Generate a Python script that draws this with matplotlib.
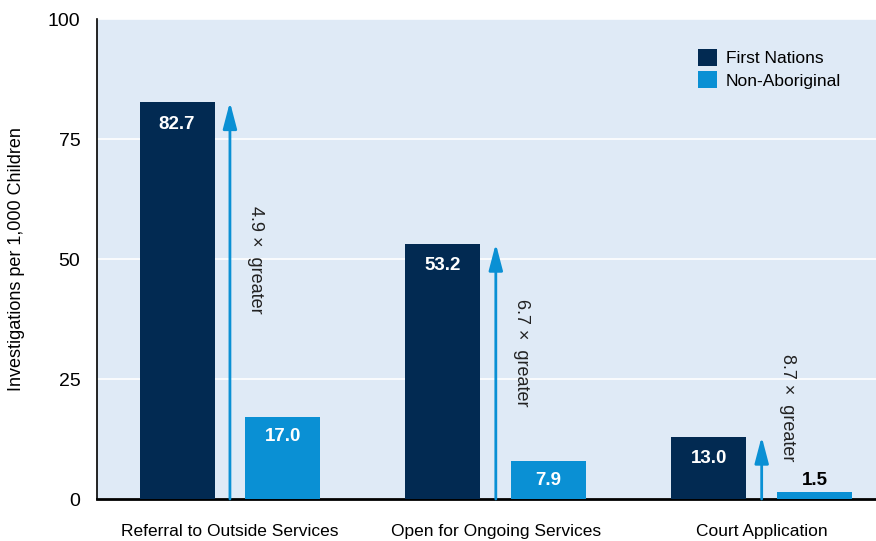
import matplotlib
matplotlib.use('Agg')
from matplotlib import pyplot as plt
import numpy as np

categories = ['Referral to Outside Services', 'Open for Ongoing Services', 'Court Application']
first_nations = [82.7, 53.2, 13.0]
non_aboriginal = [17.0, 7.9, 1.5]
ratios = ['4.9', '6.7', '8.7']
series_names = ['First Nations', 'Non-Aboriginal']

FN_COLOR = '#022a52'
NA_COLOR = '#0a90d4'
BG_COLOR = '#dfeaf6'

plt.rcParams['font.family'] = ['Liberation Sans', 'DejaVu Sans']

fig = plt.figure(figsize=(8.76, 5.41), dpi=100)
ax = fig.add_axes([97/876, 1 - 499/541, 779/876, 480/541])
ax.set_facecolor(BG_COLOR)

x = np.arange(len(categories))
w = 0.282
off = 0.199

b1 = ax.bar(x - off, first_nations, w, color=FN_COLOR, label=series_names[0], zorder=3)
b2 = ax.bar(x + off, non_aboriginal, w, color=NA_COLOR, label=series_names[1], zorder=3)

# value labels
for xi, v in zip(x, first_nations):
    ax.annotate(f'{v:.1f}', (xi - off, v), xytext=(0, -16), textcoords='offset points',
                ha='center', va='center', color='white', fontsize=13.5, fontweight='bold', zorder=4)
for xi, v in zip(x, non_aboriginal):
    if v > 5:
        ax.annotate(f'{v:.1f}', (xi + off, v), xytext=(0, -14), textcoords='offset points',
                    ha='center', va='center', color='white', fontsize=13.5, fontweight='bold', zorder=4)
    else:
        ax.annotate(f'{v:.1f}', (xi + off, v), xytext=(0, 8), textcoords='offset points',
                    ha='center', va='center', color='black', fontsize=13.5, fontweight='bold', zorder=4)

# ratio arrows
for xi, fn, na, r in zip(x, first_nations, non_aboriginal, ratios):
    ax.annotate('', xy=(xi, fn), xytext=(xi, 0),
                arrowprops=dict(arrowstyle='-|>,head_length=1.6,head_width=0.42',
                                color=NA_COLOR, lw=2, shrinkA=0, shrinkB=0), zorder=4)
    ty = max((fn + na) / 2, 19)
    ax.text(xi + 0.098, ty, f'{r} \u00d7  greater', rotation=-90, ha='center', va='center',
            fontsize=13, color='#222222', zorder=4)

ax.set_xlim(-0.5, 2.43)
ax.set_ylim(0, 100)
ax.set_yticks([0, 25, 50, 75, 100])
ax.set_xticks(x)
ax.set_xticklabels(categories, fontsize=12.5)
ax.tick_params(axis='y', labelsize=14, length=0, pad=12)
ax.tick_params(axis='x', length=0, pad=18)
ax.grid(axis='y', color='white', lw=1.2, zorder=1)
ax.set_axisbelow(True)
for s in ['top', 'right']:
    ax.spines[s].set_visible(False)
ax.spines['left'].set_linewidth(1.2)
ax.spines['bottom'].set_linewidth(2)
ax.set_ylabel('Investigations per 1,000 Children', fontsize=13, labelpad=16)

ax.legend(loc='upper right', bbox_to_anchor=(0.975, 0.97), frameon=False, fontsize=12.5,
          handlelength=1.1, handleheight=1.1, handletextpad=0.5, labelspacing=0.3)

fig.savefig('out.png', dpi=100)
